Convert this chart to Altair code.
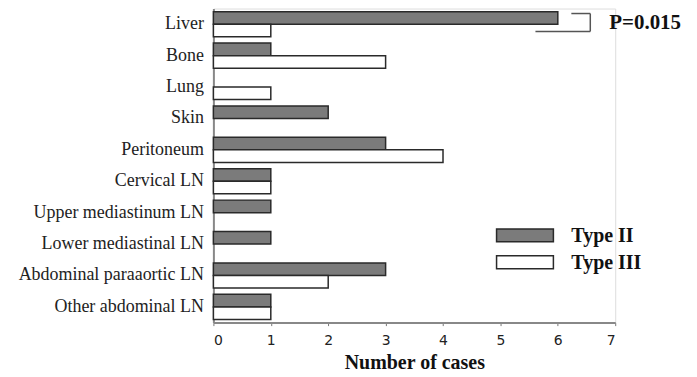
import altair as alt
import pandas as pd

sites = ["Liver", "Bone", "Lung", "Skin", "Peritoneum", "Cervical LN",
         "Upper mediastinum LN", "Lower mediastinal LN",
         "Abdominal paraaortic LN", "Other abdominal LN"]
type2 = [6, 1, 0, 2, 3, 1, 1, 1, 3, 1]
type3 = [1, 3, 1, 0, 4, 1, 0, 0, 2, 1]
series = ["Type II", "Type III"]
colors = ["#7b7b7b", "#ffffff"]
x_ticks = [0, 1, 2, 3, 4, 5, 6, 7]
p_label = "P=0.015"

rows = []
for s, a, b in zip(sites, type2, type3):
    rows.append({"site": s, "series": series[0], "n": a})
    rows.append({"site": s, "series": series[1], "n": b})
df = pd.DataFrame(rows)
df = df[df["n"] > 0]

FONT = "'Times New Roman', 'Liberation Serif', 'DejaVu Serif', serif"
SANS = "'DejaVu Sans', sans-serif"
W, H = 403, 315

bars = alt.Chart(df).mark_bar(stroke="#2a2a2a", strokeWidth=1.5).encode(
    x=alt.X("n:Q", scale=alt.Scale(domain=[0, 7], nice=False),
            axis=alt.Axis(values=x_ticks, title="Number of cases", format="d",
                          grid=False, tickSize=3, tickColor="#777",
                          domainColor="#888", domainWidth=2,
                          labelFont=SANS, labelFontSize=14, labelColor="#222",
                          labelPadding=8,
                          titleFont=FONT, titleFontSize=20, titleFontWeight="bold",
                          titleColor="#111", titlePadding=5)),
    y=alt.Y("site:N", sort=sites,
            scale=alt.Scale(paddingInner=0.2, paddingOuter=0.1),
            axis=alt.Axis(title=None, ticks=False, domainColor="#888", domainWidth=2,
                          labelFont=FONT, labelFontSize=18, labelColor="#222",
                          labelPadding=10, labelLimit=300)),
    yOffset=alt.YOffset("series:N", sort=series, scale=alt.Scale(paddingInner=0, paddingOuter=0)),
    fill=alt.Fill("series:N", scale=alt.Scale(domain=series, range=colors), legend=None),
)

layers = [bars]

# legend (manual)
leg_y = [221, 248]
for i, s in enumerate(series):
    layers.append(alt.Chart(pd.DataFrame({"s": [s]})).mark_rect(
        fill=colors[i], stroke="#2a2a2a", strokeWidth=1.5).encode(
        x=alt.value(284), x2=alt.value(341), y=alt.value(leg_y[i]), y2=alt.value(leg_y[i] + 13)))
    layers.append(alt.Chart(pd.DataFrame({"s": [s]})).mark_text(
        font=FONT, fontSize=20, fontWeight="bold", align="left", baseline="middle",
        color="#111").encode(
        x=alt.value(359), y=alt.value(leg_y[i] + 7), text="s:N"))

# significance bracket
bracket = pd.DataFrame({
    "x": [359, 378, 323], "x2": [378, 378, 378],
    "y": [5, 5, 23], "y2": [5, 23, 23]})
layers.append(alt.Chart(bracket).mark_rule(color="#555", strokeWidth=1.5).encode(
    x=alt.X("x:Q", scale=None), x2="x2:Q", y=alt.Y("y:Q", scale=None), y2="y2:Q"))
layers.append(alt.Chart(pd.DataFrame({"t": [p_label]})).mark_text(
    font=FONT, fontSize=21, fontWeight="bold", align="left", baseline="middle",
    color="#111").encode(
    x=alt.value(397), y=alt.value(15), text="t:N"))

chart = alt.layer(*layers).properties(
    width=W, height=H,
    autosize=alt.AutoSizeParams(type="none"),
    padding={"left": 206, "top": 0, "right": 74, "bottom": 52},
).configure_view(stroke=None).configure(background="white")

chart.save("out.html", embed_options={"renderer": "svg", "actions": False})
